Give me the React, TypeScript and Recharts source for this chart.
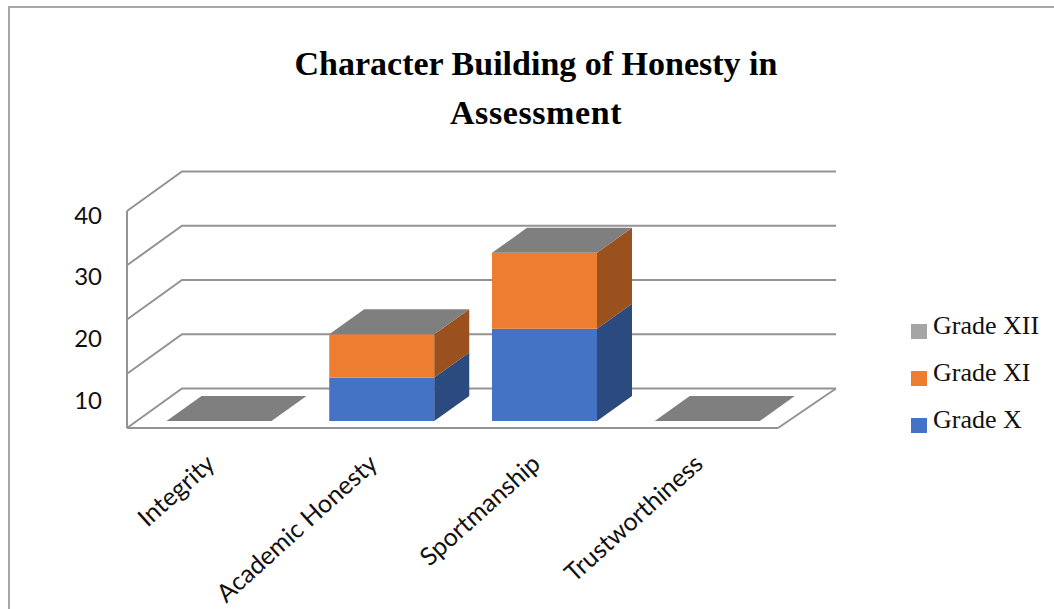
import { BarChart, Bar, XAxis, YAxis, CartesianGrid } from 'recharts'

const categories = ['Integrity', 'Academic Honesty', 'Sportmanship', 'Trustworthiness']
const gradeX = [0, 8, 17, 0]
const gradeXI = [0, 8, 14, 0]
const gradeXII = [0, 0, 0, 0]
const wallTicks = [0, 10, 20, 30, 40]
const labelTicks = [10, 20, 30, 40]
const legendItems = [
  { name: 'Grade XII', color: '#a5a5a5' },
  { name: 'Grade XI', color: '#ed7d31' },
  { name: 'Grade X', color: '#4472c4' },
]

const data = categories.map((name, i) => ({
  name,
  x: gradeX[i],
  xi: gradeXI[i],
  xii: gradeXII[i],
}))

const lineColor = '#939393'
const sansFont = 'Lato, sans-serif'
const serifFont = '"Liberation Serif", serif'

// fake 3D: offset of the bars on the floor, and depth of a box
const floorDx = 10.5
const floorDy = -7
const boxDx = 35
const boxDy = -25

function Box3D(props: any) {
  const { x, y, width, height, fill, side, top } = props
  const left = x + floorDx
  const right = left + width
  const upper = y + floorDy
  const lower = upper + height
  if (top) {
    return (
      <polygon
        fill={top}
        points={`${left},${upper} ${right},${upper} ${right + boxDx},${upper + boxDy} ${left + boxDx},${upper + boxDy}`}
      />
    )
  }
  if (!height) return null
  return (
    <g>
      <rect x={left} y={upper} width={width} height={height} fill={fill} />
      <polygon
        fill={side}
        points={`${right},${upper} ${right + boxDx},${upper + boxDy} ${right + boxDx},${lower + boxDy} ${right},${lower}`}
      />
    </g>
  )
}

// each gridline runs up the side wall and then along the back wall
function WallLine(props: any) {
  const { x1, y1, x2 } = props
  const isFloor = y1 > 420
  return (
    <g fill="none" stroke={lineColor} strokeWidth={2}>
      <polyline points={`${x1},${y1} ${x1 + 55},${y1 - 39.5} ${x2 + 58},${y1 - 39.5}`} />
      {isFloor && <line x1={x2} y1={y1} x2={x2 + 58} y2={y1 - 39.5} />}
    </g>
  )
}

function CategoryTick(props: any) {
  const { x, y, payload } = props
  const tx = x + 8
  const ty = y + 30
  return (
    <text
      x={tx}
      y={ty}
      textAnchor="end"
      fontFamily={sansFont}
      fontSize={25}
      fill="#111"
      transform={`rotate(-42 ${tx} ${ty})`}
    >
      {payload.value}
    </text>
  )
}

export default function App() {
  return (
    <div style={{ position: 'absolute', left: 0, top: 0, width: 1054, height: 609, overflow: 'hidden', background: '#fff' }}>
      <div style={{ position: 'absolute', left: 8, top: 6, width: 1100, height: 700, borderLeft: '2px solid #a6a6a6', borderTop: '2px solid #a6a6a6' }} />
      <div style={{ position: 'absolute', left: 236, width: 600, top: 39, textAlign: 'center', fontFamily: serifFont, fontWeight: 'bold', fontSize: 34, lineHeight: '49px', color: '#000' }}>
        Character Building of Honesty in
        <br />
        <span style={{ letterSpacing: 0.6 }}>Assessment</span>
      </div>
      <BarChart
        width={1054}
        height={609}
        data={data}
        barSize={105}
        margin={{ top: 211, right: 276, bottom: 0, left: 0 }}
        style={{ position: 'absolute', left: 0, top: 0 }}
      >
        <CartesianGrid yAxisId="value" vertical={false} horizontal={WallLine} />
        <XAxis
          dataKey="name"
          interval={0}
          height={181}
          tickLine={false}
          axisLine={{ stroke: lineColor, strokeWidth: 2 }}
          tick={CategoryTick}
        />
        <YAxis yAxisId="value" hide type="number" domain={[0, 40]} ticks={wallTicks} allowDataOverflow />
        <YAxis
          yAxisId="labels"
          type="number"
          width={127}
          domain={[5.46, 40.65]}
          ticks={labelTicks}
          allowDataOverflow
          tickLine={false}
          tickSize={0}
          tickMargin={25}
          axisLine={{ stroke: lineColor, strokeWidth: 2 }}
          tick={{ fontFamily: sansFont, fontSize: 24, fill: '#111' }}
        />
        <Bar yAxisId="value" dataKey="x" stackId="a" fill="#4472c4" isAnimationActive={false} shape={(p: any) => <Box3D {...p} side="#2b4a80" />} />
        <Bar yAxisId="value" dataKey="xi" stackId="a" fill="#ed7d31" isAnimationActive={false} shape={(p: any) => <Box3D {...p} side="#9a511e" />} />
        <Bar yAxisId="value" dataKey="xii" stackId="a" fill="#a5a5a5" isAnimationActive={false} shape={(p: any) => <Box3D {...p} top="#7f7f7f" />} />
      </BarChart>
      {legendItems.map((item, i) => (
        <div key={item.name} style={{ position: 'absolute', left: 911, top: 324 + i * 47, width: 16, height: 15, background: item.color }} />
      ))}
      {legendItems.map((item, i) => (
        <div key={item.name} style={{ position: 'absolute', left: 933, top: 311 + i * 47, fontFamily: serifFont, fontSize: 26, lineHeight: '30px', color: '#111', whiteSpace: 'nowrap' }}>
          {item.name}
        </div>
      ))}
    </div>
  )
}
